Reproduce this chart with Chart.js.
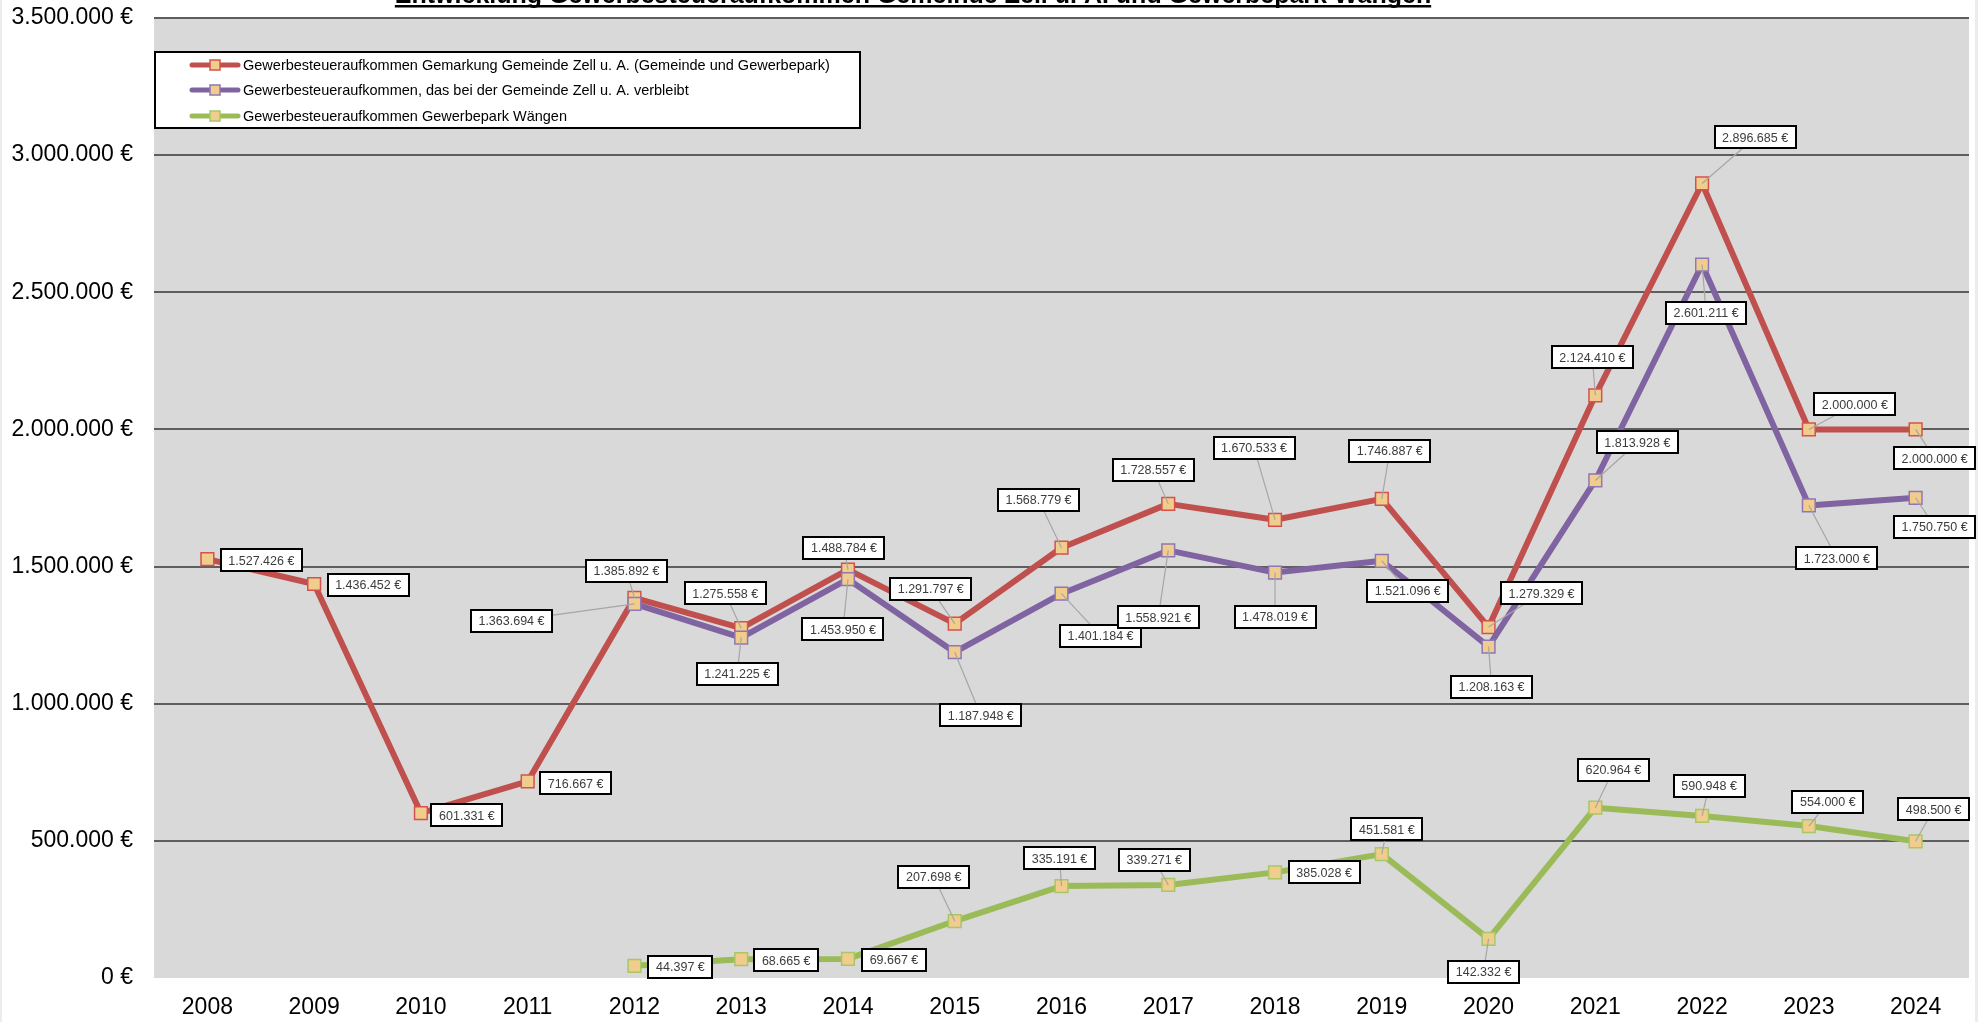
<!DOCTYPE html>
<html>
<head>
<meta charset="utf-8">
<script src="https://cdn.jsdelivr.net/npm/chart.js@4/dist/chart.umd.min.js"></script>
<style>
  html, body { margin: 0; padding: 0; background: #fff; }
  #wrap { width: 1982px; height: 1022px; position: relative; }
</style>
</head>
<body>
<div id="wrap"><canvas id="chart" width="1982" height="1022"></canvas></div>
<script>
const years = ['2008', '2009', '2010', '2011', '2012', '2013', '2014', '2015', '2016',
  '2017', '2018', '2019', '2020', '2021', '2022', '2023', '2024'];

// Gewerbesteuer Gemarkung (Gemeinde + Gewerbepark)
const gesamt = [1527426, 1436452, 601331, 716667, 1385892, 1275558, 1488784, 1291797, 1568779,
  1728557, 1670533, 1746887, 1279329, 2124410, 2896685, 2000000, 2000000];
// verbleibt bei der Gemeinde
const verbleibt = [null, null, null, null, 1363694, 1241225, 1453950, 1187948, 1401184,
  1558921, 1478019, 1521096, 1208163, 1813928, 2601211, 1723000, 1750750];
// Gewerbepark Wängen
const gewerbepark = [null, null, null, null, 44397, 68665, 69667, 207698, 335191,
  339271, 385028, 451581, 142332, 620964, 590948, 554000, 498500];

const seriesNames = [
  'Gewerbesteueraufkommen Gemarkung Gemeinde Zell u. A. (Gemeinde und Gewerbepark)',
  'Gewerbesteueraufkommen, das bei der Gemeinde Zell u. A. verbleibt',
  'Gewerbesteueraufkommen Gewerbepark Wängen'
];
const chartTitle = 'Entwicklung Gewerbesteueraufkommen Gemeinde Zell u. A. und Gewerbepark Wängen';

// where each data label box sits, relative to its point (px)
const offsGesamt = [[54, 1], [54, 1], [46, 2], [48, 2], [-8, -27], [-16, -35], [-4, -22], [-24, -35], [-23, -48],
  [-15, -34], [-21, -72], [8, -48], [53, -34], [-3, -38], [53, -46], [46, -25], [19, 29]];
const offsVerbleibt = [null, null, null, null, [-123, 17], [-4, 36], [-5, 50], [26, 63], [39, 42],
  [-10, 67], [0, 44], [26, 30], [3, 40], [42, -38], [4, 48], [28, 53], [19, 29]];
const offsPark = [null, null, null, null, [46, 1], [45, 1], [46, 1], [-21, -44], [-2, -28],
  [-14, -25], [49, 0], [5, -25], [-5, 33], [18, -38], [7, -30], [19, -24], [18, -32]];

const FONT = '"Liberation Sans", Arial, sans-serif';
const colors = ['#c0504d', '#8064a2', '#9bbb59'];
const markerBorders = ['#d4514d', '#8f76b4', '#a7c865'];
const markerFill = '#f0cc8d';

function euro(v) {
  return String(Math.round(v)).replace(/\B(?=(\d{3})+(?!\d))/g, '.') + ' €';
}

const bgPlugin = {
  id: 'bg',
  beforeDraw(chart) {
    const { ctx, chartArea: a } = chart;
    ctx.save();
    ctx.fillStyle = '#d9d9d9';
    ctx.fillRect(a.left, a.top, a.right - a.left, a.bottom - a.top);
    ctx.fillStyle = '#ececec';
    ctx.fillRect(0, 0, 2, chart.height);
    ctx.fillRect(1975, 0, 3, chart.height);
    ctx.restore();
  }
};

const labelPlugin = {
  id: 'valueLabels',
  afterDatasetsDraw(chart) {
    const ctx = chart.ctx;
    const offs = [offsGesamt, offsVerbleibt, offsPark];
    const items = [];
    chart.data.datasets.forEach((ds, i) => {
      const meta = chart.getDatasetMeta(i);
      ds.data.forEach((v, j) => {
        if (v === null || !offs[i][j]) return;
        const p = meta.data[j];
        items.push({ x: p.x, y: p.y, dx: offs[i][j][0], dy: offs[i][j][1], text: euro(v) });
      });
    });
    ctx.save();
    ctx.font = '12.5px ' + FONT;
    // leader lines
    ctx.strokeStyle = '#a6a6a6';
    ctx.lineWidth = 1.2;
    items.forEach(it => {
      if (Math.abs(it.dy) < 6) return;
      ctx.beginPath();
      ctx.moveTo(it.x, it.y);
      ctx.lineTo(it.x + it.dx, it.y + it.dy);
      ctx.stroke();
    });
    // boxes
    items.forEach(it => {
      const w = Math.round(ctx.measureText(it.text).width + 15);
      const h = 22;
      const cx = it.x + it.dx, cy = it.y + it.dy;
      const bx = Math.round(cx - w / 2), by = Math.round(cy - h / 2);
      ctx.fillStyle = '#ffffff';
      ctx.fillRect(bx, by, w, h);
      ctx.strokeStyle = '#000000';
      ctx.lineWidth = 2;
      ctx.strokeRect(bx, by, w, h);
      ctx.fillStyle = '#3c3c3c';
      ctx.textAlign = 'center';
      ctx.textBaseline = 'middle';
      ctx.fillText(it.text, cx, cy + 1);
    });
    ctx.restore();
  }
};

const legendPlugin = {
  id: 'boxLegend',
  afterDraw(chart) {
    const ctx = chart.ctx;
    ctx.save();
    ctx.fillStyle = '#ffffff';
    ctx.fillRect(155, 52, 705, 76);
    ctx.strokeStyle = '#000';
    ctx.lineWidth = 2;
    ctx.strokeRect(155, 52, 705, 76);
    const rows = [65, 90, 116];
    ctx.font = '14.5px ' + FONT;
    ctx.textBaseline = 'middle';
    seriesNames.forEach((name, i) => {
      const y = rows[i];
      ctx.strokeStyle = colors[i];
      ctx.lineWidth = 5;
      ctx.lineCap = 'round';
      ctx.beginPath();
      ctx.moveTo(192, y);
      ctx.lineTo(238, y);
      ctx.stroke();
      ctx.fillStyle = markerFill;
      ctx.fillRect(210, y - 5, 10, 10);
      ctx.strokeStyle = markerBorders[i];
      ctx.lineWidth = 1.5;
      ctx.strokeRect(210, y - 5, 10, 10);
      ctx.fillStyle = '#000';
      ctx.fillText(name, 243, y + 1);
    });
    ctx.restore();
  }
};

const titlePlugin = {
  id: 'cutTitle',
  afterDraw(chart) {
    const ctx = chart.ctx;
    ctx.save();
    ctx.font = 'bold 25px ' + FONT;
    ctx.fillStyle = '#000';
    ctx.textAlign = 'left';
    ctx.textBaseline = 'alphabetic';
    const w = ctx.measureText(chartTitle).width;
    const x = 913 - w / 2;
    ctx.fillText(chartTitle, x, 3);
    ctx.fillRect(x, 5, w, 2.5);
    ctx.restore();
  }
};

const dataSets = [gesamt, verbleibt, gewerbepark];

new Chart(document.getElementById('chart'), {
  type: 'line',
  data: {
    labels: years,
    datasets: dataSets.map((d, i) => ({
      label: seriesNames[i],
      data: d,
      borderColor: colors[i],
      backgroundColor: colors[i],
      borderWidth: 6,
      borderJoinStyle: 'round',
      tension: 0,
      fill: false,
      spanGaps: false,
      pointStyle: 'rect',
      pointRadius: 9,
      pointBorderWidth: 1.5,
      pointBorderColor: markerBorders[i],
      pointBackgroundColor: markerFill,
      order: 3 - i
    }))
  },
  options: {
    responsive: false,
    animation: false,
    devicePixelRatio: 1,
    layout: { padding: { top: 18, right: 13, left: 0, bottom: 0 } },
    plugins: {
      legend: { display: false },
      title: { display: false },
      tooltip: { enabled: false }
    },
    scales: {
      x: {
        offset: true,
        grid: { display: false, drawTicks: false },
        border: { display: false },
        ticks: {
          color: '#000',
          font: { family: FONT, size: 23 },
          padding: 16,
          maxRotation: 0,
          autoSkip: false
        },
        afterFit(s) { s.height = 44; }
      },
      y: {
        min: 0,
        max: 3500000,
        grid: {
          color: c => (c.tick && c.tick.value === 0) ? 'rgba(0,0,0,0)' : '#5e5e5e',
          lineWidth: 2,
          drawTicks: false
        },
        border: { display: false },
        ticks: {
          stepSize: 500000,
          padding: 21,
          color: '#000',
          font: { family: FONT, size: 23 },
          callback: v => euro(v)
        },
        afterFit(s) {
          s.width = 154;
          s.paddingTop = 0;
          s.paddingBottom = 0;
        }
      }
    }
  },
  plugins: [bgPlugin, labelPlugin, legendPlugin, titlePlugin]
});
</script>
</body>
</html>
